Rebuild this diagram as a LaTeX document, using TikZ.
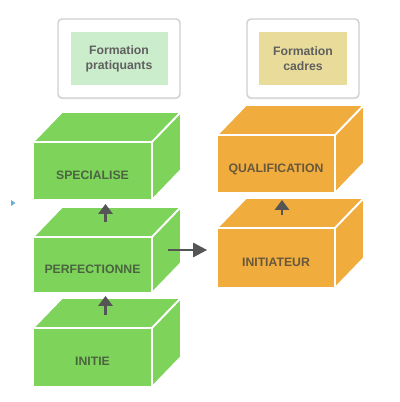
\documentclass[tikz,border=0pt]{standalone}
\usepackage{fontspec}
\setmainfont{Liberation Sans}
\usetikzlibrary{arrows.meta,shadows}

\newlength\px
\setlength\px{0.025cm}

\definecolor{vertbloc}{HTML}{7ED35A}
\definecolor{textevert}{HTML}{4A6540}
\definecolor{orangebloc}{HTML}{F0AD3D}
\definecolor{texteorange}{HTML}{67573C}
\definecolor{vertpale}{HTML}{CBEDCC}
\definecolor{jaunepale}{HTML}{E9DC9B}
\definecolor{griscadre}{HTML}{CFCFCF}
\definecolor{gristexte}{HTML}{5F5F5F}
\definecolor{grisfleche}{HTML}{555555}
\definecolor{bleupoint}{HTML}{6AAED6}

\tikzset{
  face/.style={draw=white,line width=1.3pt,line join=round},
  avant/.style={face,rectangle,minimum width=119\px,inner sep=0pt,outer sep=0pt,
    text height=11.5pt,text depth=0pt,font=\fontsize{8.7}{10}\selectfont\bfseries},
  blocvert/.style={fill=vertbloc,text=textevert},
  blocorange/.style={fill=orangebloc,text=texteorange},
  cadre/.style={draw=griscadre,line width=1pt,fill=white,rounded corners=4\px,
    minimum height=79\px,drop shadow={opacity=0.12,shadow xshift=0pt,shadow yshift=-1pt}},
  titre/.style={minimum height=53\px,align=center,text=gristexte,
    font=\fontsize{8.7}{10.5}\selectfont\bfseries},
  fleche/.style={draw=grisfleche,line width=2pt,-{Triangle[width=10pt,length=7pt]}}
}

\begin{document}
\begin{tikzpicture}[x=1\px,y=-1\px]
  \useasboundingbox (0,0) rectangle (400,402);
  % en-tetes
  \node[cadre,minimum width=122\px] (cadreG) at (119,58.5) {};
  \node[titre,fill=vertpale,minimum width=97\px] (titreG) at (cadreG) {Formation\\pratiquants};
  \node[cadre,minimum width=112\px] (cadreD) at (303,58.5) {};
  \node[titre,fill=jaunepale,minimum width=88\px] (titreD) at (cadreD) {Formation\\cadres};
  % faces avant des blocs
  \node[avant,blocvert,minimum height=58\px] (spec) at (92.5,171) {SPECIALISE};
  \node[avant,blocvert,minimum height=56\px] (perf) at (92.5,265) {PERFECTIONNE};
  \node[avant,blocvert,minimum height=59\px] (initie) at (92.5,357.5) {INITIE};
  \node[avant,blocorange,minimum width=118\px,minimum height=58\px] (qual) at (276,164) {QUALIFICATION};
  \node[avant,blocorange,minimum width=118\px,minimum height=60\px] (initi) at (276,258) {INITIATEUR};
  % dessus et cotes
  \foreach \bloc/\coul in {spec/vertbloc,perf/vertbloc,initie/vertbloc,qual/orangebloc,initi/orangebloc}{
    \fill[face,fill=\coul] (\bloc.north west) -- ++(29,-30) -- ([shift={(29,-30)}]\bloc.north east) -- (\bloc.north east) -- cycle;
    \fill[face,fill=\coul] (\bloc.north east) -- ++(29,-30) -- ([shift={(29,-30)}]\bloc.south east) -- (\bloc.south east) -- cycle;
  }
  % fleches
  \draw[fleche] ([shift={(13,-15)}]perf.north) -- ([shift={(13,4)}]spec.south);
  \draw[fleche] ([shift={(13,-13)}]initie.north) -- ([shift={(13,3)}]perf.south);
  \draw[fleche] ([shift={(6,-13)}]initi.north) -- ([shift={(6,7)}]qual.south);
  \draw[fleche,-{Triangle[width=10pt,length=10pt]}] ([shift={(16,-15)}]perf.east) coordinate (depart)
    -- ([xshift=-7pt]depart -| initi.west);
  % petit repere bleu
  \fill[bleupoint] (11,200) -- (15.5,203) -- (11,206) -- cycle;
\end{tikzpicture}
\end{document}
